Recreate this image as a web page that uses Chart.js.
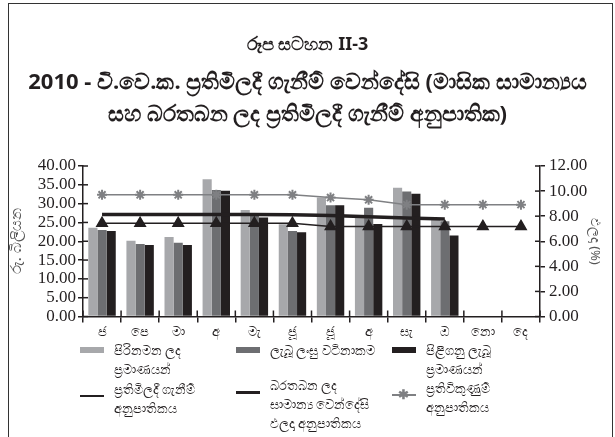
<!DOCTYPE html>
<html>
<head>
<meta charset="utf-8">
<script src="https://cdn.jsdelivr.net/npm/chart.js@4"></script>
<style>
  body { margin: 0; background: #fff; }
  #wrap { position: relative; width: 615px; height: 437px; overflow: hidden; font-family: "Noto Sans", sans-serif; color: #231f20; }
  #frame { position: absolute; left: 8px; top: 3px; width: 603px; height: 450px; border: 1.5px solid #333; }
  #chart { position: absolute; left: 0; top: 0; }
  .title { position: absolute; left: 0; width: 615px; text-align: center; font-weight: bold; white-space: nowrap; }
  .leg { position: absolute; font-size: 13px; line-height: 19px; white-space: nowrap; }
  .sw { position: absolute; }
</style>
</head>
<body>
<div id="wrap">
  <div id="frame"></div>
  <canvas id="chart" width="615" height="437"></canvas>
  <div class="title" style="top:31px;font-size:18px;">රූප සටහන II-3</div>
  <div class="title" style="top:65px;font-size:22px;">2010 - වි.වෙ.ක. ප්‍රතිමිලදී ගැනීම් වෙන්දේසි (මාසික සාමාන්‍යය</div>
  <div class="title" style="top:97px;font-size:22px;">සහ බරතබන ලද ප්‍රතිමිලදී ගැනීම් අනුපාතික)</div>
  <div id="legend"></div>
</div>
<script>
// -------------------------
// Data
// -------------------------
const months = ["ජ", "පෙ", "මා", "අ", "මැ", "ජූ", "ජූ", "අ", "සැ", "ඔ", "නො", "දෙ"];

const offered  = [23.6, 20.1, 21.1, 36.5, 28.3, 24.5, 31.6, 26.9, 34.2, 26.2, null, null];
const bidValue = [23.0, 19.3, 19.6, 33.6, 27.0, 22.7, 29.6, 28.9, 33.2, 25.3, null, null];
const accepted = [22.7, 19.0, 19.0, 33.4, 26.3, 22.4, 29.6, 24.6, 32.6, 21.5, null, null];

const repoRate    = [7.43, 7.43, 7.43, 7.43, 7.43, 7.43, 7.18, 7.18, 7.18, 7.18, 7.18, 7.18];
const avgYield    = [8.13, 8.13, 8.13, 8.13, 8.13, 8.12, 8.05, 7.96, 7.86, 7.78, null, null];
const reverseRepo = [9.70, 9.70, 9.70, 9.70, 9.70, 9.70, 9.48, 9.30, 8.92, 8.92, 8.92, 8.92];

const leftTicks = { min: 0, max: 40, step: 5 };
const rightTicks = { min: 0, max: 12, step: 2 };

const labels = {
  offered: ["පිරිනමන ලද", "ප්‍රමාණයන්"],
  bidValue: ["ලැබූ ලංසු වටිනාකම"],
  accepted: ["පිළිගනු ලැබූ", "ප්‍රමාණයන්"],
  repoRate: ["ප්‍රතිමිලදී ගැනීම්", "අනුපාතිකය"],
  avgYield: ["බරතබන ලද", "සාමාන්‍ය වෙන්දේසි", "ඵලදා අනුපාතිකය"],
  reverseRepo: ["ප්‍රතිවිකුණුම්", "අනුපාතිකය"],
};

const LIGHT = "#a7a8ab";
const MID = "#6d6e71";
const DARK = "#231f20";
const STAR = "#7f8083";

// -------------------------
// Crossing tick marks inside the plot area
// -------------------------
const innerTicks = {
  id: "innerTicks",
  afterDraw(chart) {
    const ctx = chart.ctx;
    const { y, y1, x } = chart.scales;
    ctx.save();
    ctx.strokeStyle = DARK;
    ctx.lineWidth = 1.5;
    y.ticks.forEach(t => {
      const p = y.getPixelForValue(t.value);
      ctx.beginPath(); ctx.moveTo(y.right, p); ctx.lineTo(y.right + 5, p); ctx.stroke();
    });
    y1.ticks.forEach(t => {
      const p = y1.getPixelForValue(t.value);
      ctx.beginPath(); ctx.moveTo(y1.left, p); ctx.lineTo(y1.left - 5, p); ctx.stroke();
    });
    for (let i = 0; i <= months.length; i++) {
      const p = x.getPixelForValue(i - 0.5);
      ctx.beginPath(); ctx.moveTo(p, x.top); ctx.lineTo(p, x.top - 6); ctx.stroke();
    }
    ctx.restore();
  },
};

const tickFont = { family: "'Liberation Serif', 'DejaVu Serif', serif", size: 17 };

new Chart(document.getElementById("chart"), {
  data: {
    labels: months,
    datasets: [
      { type: "line", label: labels.avgYield.join(" "), data: avgYield, yAxisID: "y1", borderColor: DARK, borderWidth: 3.5, pointRadius: 0, order: 0 },
      { type: "line", label: labels.repoRate.join(" "), data: repoRate, yAxisID: "y1", borderColor: DARK, borderWidth: 1.5,
        pointStyle: "triangle", pointRadius: 6, pointBackgroundColor: DARK, pointBorderColor: DARK, order: 0 },
      { type: "line", label: labels.reverseRepo.join(" "), data: reverseRepo, yAxisID: "y1", borderColor: STAR, borderWidth: 1.5,
        pointStyle: "star", pointRadius: 5, pointBorderColor: STAR, pointBorderWidth: 2, order: 0 },
      { type: "bar", label: labels.offered.join(" "), data: offered, yAxisID: "y", backgroundColor: LIGHT, order: 1 },
      { type: "bar", label: labels.bidValue.join(" "), data: bidValue, yAxisID: "y", backgroundColor: MID, order: 1 },
      { type: "bar", label: labels.accepted.join(" "), data: accepted, yAxisID: "y", backgroundColor: DARK, order: 1 },
    ],
  },
  options: {
    responsive: false,
    animation: false,
    datasets: { bar: { categoryPercentage: 0.72, barPercentage: 1.0 } },
    layout: { padding: { top: 166, left: 0, right: 0, bottom: 0 } },
    plugins: { legend: { display: false }, tooltip: { enabled: false } },
    scales: {
      x: {
        offset: true,
        grid: { offset: true, drawOnChartArea: false, tickLength: 6, color: DARK, lineWidth: 1.5 },
        border: { color: DARK, width: 1.5 },
        ticks: { color: DARK, font: { family: "'Noto Sans', sans-serif", size: 13 }, padding: 2, maxRotation: 0, autoSkip: false },
        afterFit: s => { s.height = 120.5; },
      },
      y: {
        position: "left",
        min: leftTicks.min, max: leftTicks.max,
        ticks: { stepSize: leftTicks.step, autoSkip: false, color: DARK, font: tickFont, padding: 2, callback: v => v.toFixed(2) },
        grid: { drawOnChartArea: false, tickLength: 5, color: DARK, lineWidth: 1.5 },
        border: { color: DARK, width: 1.5 },
        title: { display: true, text: "රු. බිලියන", color: "#555", font: { family: "'Noto Sans', sans-serif", size: 15 }, padding: { top: 8, bottom: 0 } },
        afterFit: s => { s.width = 83; },
      },
      y1: {
        position: "right",
        min: rightTicks.min, max: rightTicks.max,
        ticks: { stepSize: rightTicks.step, autoSkip: false, color: DARK, font: tickFont, padding: 4, callback: v => v.toFixed(2) },
        grid: { drawOnChartArea: false, tickLength: 5, color: DARK, lineWidth: 1.5 },
        border: { color: DARK, width: 1.5 },
        title: { display: true, text: "ඵලදා (%)", color: "#555", font: { family: "'Noto Sans', sans-serif", size: 13 }, padding: { top: 12, bottom: 0 } },
        afterFit: s => { s.width = 75; },
      },
    },
  },
  plugins: [innerTicks],
});

// -------------------------
// Legend (HTML, three columns)
// -------------------------
const legendItems = [
  { lines: labels.offered, kind: "box", color: LIGHT, x: 80, y: 345 },
  { lines: labels.bidValue, kind: "box", color: MID, x: 236, y: 345 },
  { lines: labels.accepted, kind: "box", color: DARK, x: 392, y: 345 },
  { lines: labels.repoRate, kind: "thin", color: DARK, x: 80, y: 384 },
  { lines: labels.avgYield, kind: "thick", color: DARK, x: 236, y: 380 },
  { lines: labels.reverseRepo, kind: "star", color: STAR, x: 392, y: 383 },
];

const legendEl = document.getElementById("legend");
legendItems.forEach(item => {
  const sw = document.createElement("div");
  sw.className = "sw";
  const top = item.kind === "box" ? item.y + 2 : item.y + 11;
  const h = item.kind === "box" ? 6 : item.kind === "thick" ? 3 : 1.5;
  sw.style.cssText = `left:${item.x}px;top:${top}px;width:24px;height:${h}px;background:${item.color};`;
  legendEl.appendChild(sw);
  if (item.kind === "star") {
    const st = document.createElement("div");
    st.className = "sw";
    st.style.cssText = `left:${item.x + 6}px;top:${item.y + 1}px;font-size:13px;line-height:20px;color:${item.color};font-weight:bold;`;
    st.textContent = "✱";
    legendEl.appendChild(st);
  }
  const tx = document.createElement("div");
  tx.className = "leg";
  tx.style.left = `${item.x + 34}px`;
  tx.style.top = `${item.y - 4}px`;
  tx.innerHTML = item.lines.join("<br>");
  legendEl.appendChild(tx);
});
</script>
</body>
</html>
